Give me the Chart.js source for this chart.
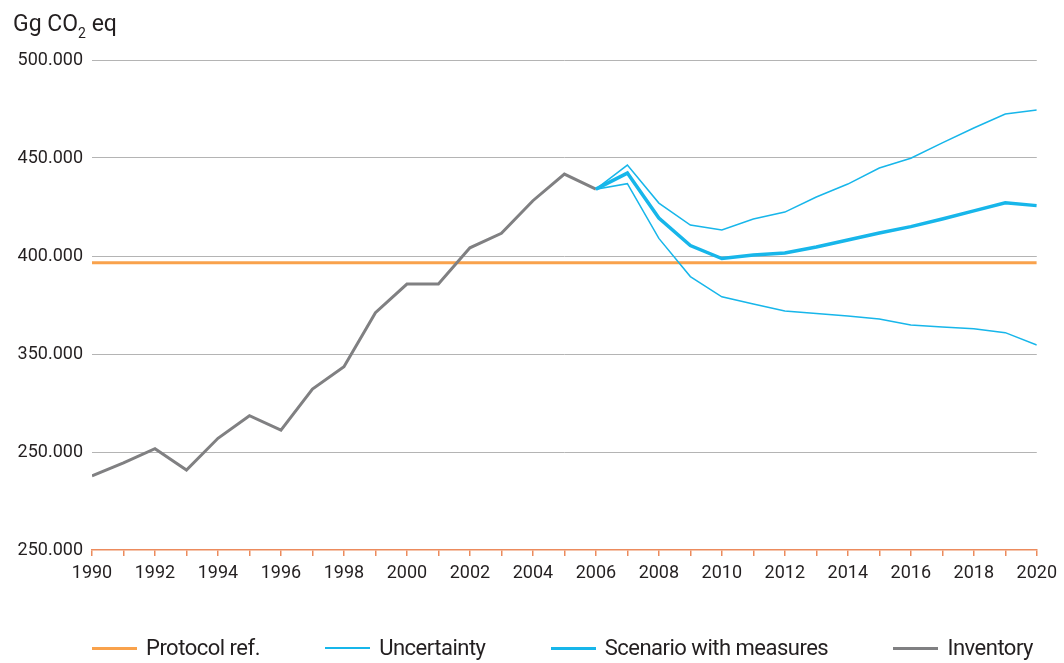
<!DOCTYPE html>
<html>
<head>
<meta charset="utf-8">
<script src="https://cdn.jsdelivr.net/npm/chart.js@4.4.0/dist/chart.umd.min.js"></script>
<style>
body { margin: 0; background: #fff; font-family: Roboto, sans-serif; color: #231f20; }
#wrap { position: relative; width: 1064px; height: 663px; }
#unit { position: absolute; left: 13px; top: 12px; font-size: 23px; line-height: 23px; white-space: nowrap; }
#unit .sub { font-size: 14px; vertical-align: -7px; }
#legend { position: absolute; left: 92px; top: 636px; width: 941px; height: 24px;
  display: flex; justify-content: space-between; font-size: 22px; line-height: 24px; letter-spacing: -0.5px; }
.item { display: flex; align-items: center; white-space: nowrap; }
.swatch { width: 45px; margin-right: 9px; }
</style>
</head>
<body>
<div id="wrap">
  <canvas id="chart" width="1064" height="663"></canvas>
  <div id="unit">Gg CO<span class="sub">2</span> eq</div>
  <div id="legend"></div>
</div>
<script>
// inventory years and values (Gg CO2 eq)
const inventoryYears = [1990, 1991, 1992, 1993, 1994, 1995, 1996, 1997, 1998, 1999, 2000, 2001, 2002, 2003, 2004, 2005, 2006];
const inventory = [287800, 294500, 301700, 290800, 307000, 318500, 311200, 332100, 343500, 371100, 385700, 385700, 404200, 411600, 428200, 441800, 434100];

// projections from 2006
const projYears = [2006, 2007, 2008, 2009, 2010, 2011, 2012, 2013, 2014, 2015, 2016, 2017, 2018, 2019, 2020];
const scenario = [434100, 442300, 419400, 405300, 398700, 400500, 401500, 404600, 408200, 411700, 415000, 418900, 423000, 427200, 425700];
const upperBound = [434100, 446400, 427000, 415800, 413300, 418900, 422400, 430100, 436700, 444900, 449900, 457700, 465300, 472400, 474500];
const lowerBound = [434100, 436900, 409000, 389500, 379200, 375500, 371900, 370700, 369400, 367900, 364800, 363800, 362900, 360900, 354600];

// protocol reference level
const protocolYears = [1990, 2020];
const protocolRef = 396600;

// axis ticks (label at 300000 is printed as 250.000 in the source)
const yTickValues = [250000, 300000, 350000, 400000, 450000, 500000];
const yTickLabels = ['250.000', '250.000', '350.000', '400.000', '450.000', '500.000'];
const xTickLabels = ['1990', '1992', '1994', '1996', '1998', '2000', '2002', '2004', '2006', '2008', '2010', '2012', '2014', '2016', '2018', '2020'];

const orange = '#f9a24c';
const blue = '#17b6ea';
const grey = '#808082';
const axisOrange = '#ec8b5d';

function toPoints(xs, ys) {
    return xs.map((x, i) => ({x: x, y: ys[i]}));
}

const datasets = [
    {label: 'Protocol ref.', data: protocolYears.map(x => ({x: x, y: protocolRef})), borderColor: orange, borderWidth: 3, order: 5, legendH: 3},
    {label: 'Uncertainty', data: toPoints(projYears, upperBound), borderColor: blue, borderWidth: 1.5, order: 2, legendH: 2},
    {label: 'Uncertainty', data: toPoints(projYears, lowerBound), borderColor: blue, borderWidth: 1.5, order: 2, hideLegend: true},
    {label: 'Scenario with measures', data: toPoints(projYears, scenario), borderColor: blue, borderWidth: 3.5, order: 1, legendH: 3},
    {label: 'Inventory', data: toPoints(inventoryYears, inventory), borderColor: grey, borderWidth: 3, order: 3, legendH: 3}
];
datasets.forEach(d => { d.pointRadius = 0; d.tension = 0; d.fill = false; });

Chart.defaults.font.family = 'Roboto, sans-serif';
Chart.defaults.font.size = 18;
Chart.defaults.color = '#231f20';

const chart = new Chart(document.getElementById('chart'), {
    type: 'line',
    data: {datasets: datasets},
    options: {
        responsive: false,
        animation: false,
        layout: {padding: {top: 60, left: 0, right: 27, bottom: 73}},
        plugins: {legend: {display: false}, tooltip: {enabled: false}},
        scales: {
            x: {
                type: 'linear', min: 1990, max: 2020,
                afterFit: s => { s.height = 40; },
                border: {display: true, color: axisOrange, width: 1.5},
                grid: {drawOnChartArea: false, drawTicks: true, tickLength: 6, color: axisOrange, lineWidth: 1.5},
                ticks: {stepSize: 1, autoSkip: false, maxRotation: 0, padding: 7,
                    callback: v => xTickLabels.includes(String(v)) ? String(v) : ''}
            },
            y: {
                min: 250000, max: 500000,
                afterFit: s => { s.width = 92; },
                border: {display: false},
                grid: {drawTicks: false, color: c => c.tick && c.tick.value === 250000 ? 'rgba(0,0,0,0)' : '#b4b4b4', lineWidth: 1},
                ticks: {stepSize: 50000, padding: 9,
                    callback: v => { const i = yTickValues.indexOf(v); return i >= 0 ? yTickLabels[i] : ''; }}
            }
        }
    }
});

// html legend built from the chart datasets
const legendBox = document.getElementById('legend');
chart.data.datasets.forEach(ds => {
    if (ds.hideLegend) return;
    const item = document.createElement('div');
    item.className = 'item';
    const sw = document.createElement('div');
    sw.className = 'swatch';
    sw.style.height = ds.legendH + 'px';
    sw.style.background = ds.borderColor;
    const txt = document.createElement('span');
    txt.textContent = ds.label;
    item.appendChild(sw);
    item.appendChild(txt);
    legendBox.appendChild(item);
});
</script>
</body>
</html>
